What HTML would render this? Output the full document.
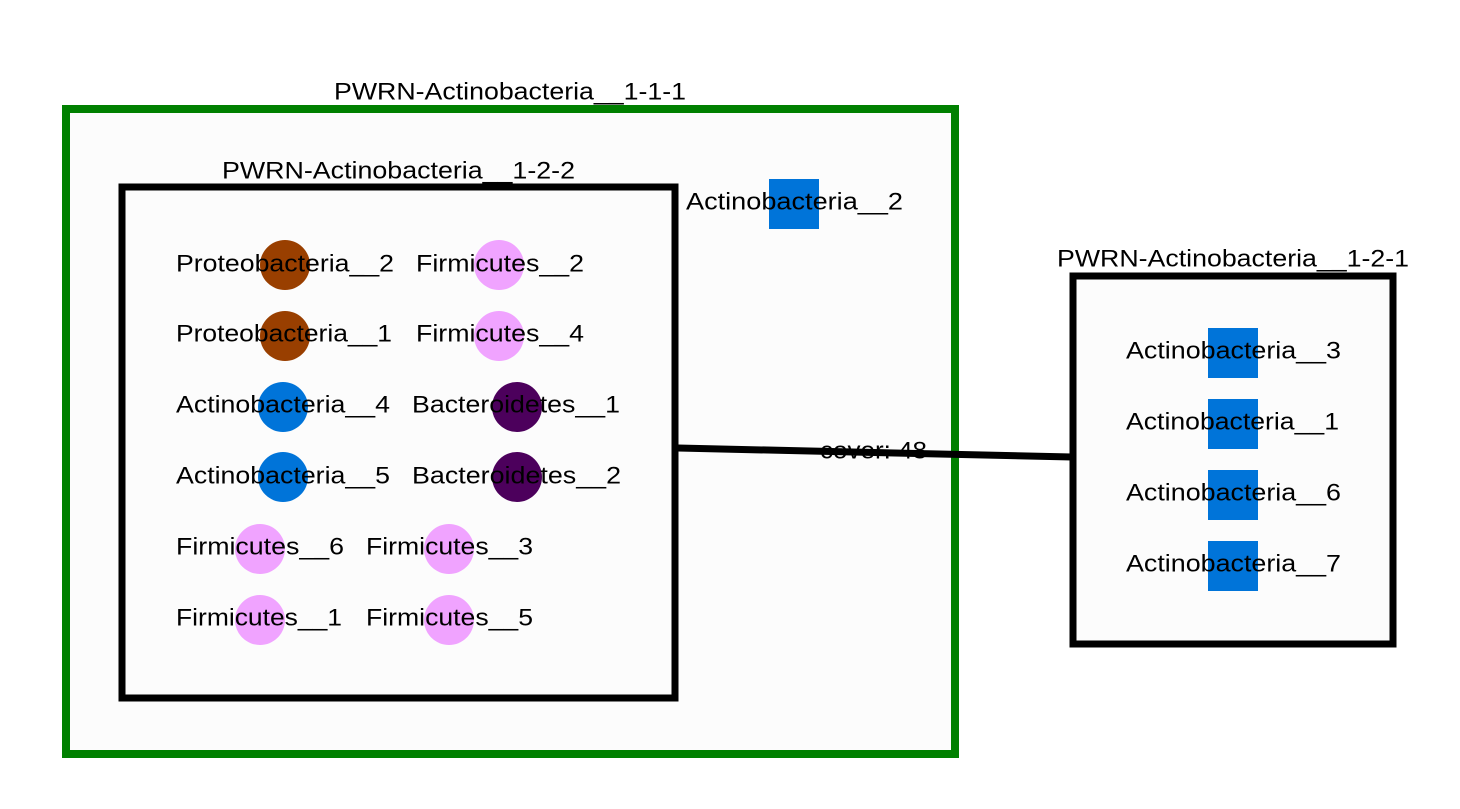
<!DOCTYPE html>
<html><head><meta charset="utf-8"><style>html,body{margin:0;padding:0;background:#fff;}svg{display:block}text{font-family:"Liberation Sans",sans-serif;font-size:24px;fill:#000;dominant-baseline:central}</style></head>
<body>
<svg width="1460" height="809" viewBox="0 0 1460 809">
<text x="334" y="92" textLength="352" lengthAdjust="spacingAndGlyphs">PWRN-Actinobacteria__1-1-1</text>
<rect x="66" y="109" width="889" height="645" fill="#fcfcfc" stroke="#008000" stroke-width="8"/>
<text x="222" y="171" textLength="353" lengthAdjust="spacingAndGlyphs">PWRN-Actinobacteria__1-2-2</text>
<rect x="122" y="187" width="553" height="511" fill="#fcfcfc" stroke="#000" stroke-width="7"/>
<text x="1057" y="259" textLength="352" lengthAdjust="spacingAndGlyphs">PWRN-Actinobacteria__1-2-1</text>
<rect x="1073" y="276" width="320" height="368" fill="#fcfcfc" stroke="#000" stroke-width="7"/>
<line x1="678" y1="448" x2="1072" y2="457" stroke="#000" stroke-width="7"/>
<text x="820" y="451" textLength="107" lengthAdjust="spacingAndGlyphs">cover: 48</text>
<rect x="769" y="179" width="50" height="50" fill="#0074d9"/>
<text x="686" y="202" textLength="217" lengthAdjust="spacingAndGlyphs">Actinobacteria__2</text>
<circle cx="285" cy="265" r="25" fill="#993f00"/><text x="176" y="264" textLength="218" lengthAdjust="spacingAndGlyphs">Proteobacteria__2</text>
<circle cx="499" cy="265" r="25" fill="#f0a3ff"/><text x="416" y="264" textLength="168" lengthAdjust="spacingAndGlyphs">Firmicutes__2</text>
<circle cx="285" cy="336" r="25" fill="#993f00"/><text x="176" y="334" textLength="216" lengthAdjust="spacingAndGlyphs">Proteobacteria__1</text>
<circle cx="499" cy="336" r="25" fill="#f0a3ff"/><text x="416" y="334" textLength="168" lengthAdjust="spacingAndGlyphs">Firmicutes__4</text>
<circle cx="283" cy="407" r="25" fill="#0074d9"/><text x="176" y="405" textLength="214" lengthAdjust="spacingAndGlyphs">Actinobacteria__4</text>
<circle cx="517" cy="407" r="25" fill="#4c005c"/><text x="412" y="405" textLength="208" lengthAdjust="spacingAndGlyphs">Bacteroidetes__1</text>
<circle cx="283" cy="477" r="25" fill="#0074d9"/><text x="176" y="476" textLength="214" lengthAdjust="spacingAndGlyphs">Actinobacteria__5</text>
<circle cx="517" cy="477" r="25" fill="#4c005c"/><text x="412" y="476" textLength="209" lengthAdjust="spacingAndGlyphs">Bacteroidetes__2</text>
<circle cx="260" cy="549" r="25" fill="#f0a3ff"/><text x="176" y="547" textLength="168" lengthAdjust="spacingAndGlyphs">Firmicutes__6</text>
<circle cx="449" cy="549" r="25" fill="#f0a3ff"/><text x="366" y="547" textLength="167" lengthAdjust="spacingAndGlyphs">Firmicutes__3</text>
<circle cx="260" cy="620" r="25" fill="#f0a3ff"/><text x="176" y="618" textLength="166" lengthAdjust="spacingAndGlyphs">Firmicutes__1</text>
<circle cx="449" cy="620" r="25" fill="#f0a3ff"/><text x="366" y="618" textLength="167" lengthAdjust="spacingAndGlyphs">Firmicutes__5</text>
<rect x="1208" y="328" width="50" height="50" fill="#0074d9"/><text x="1126" y="351" textLength="215" lengthAdjust="spacingAndGlyphs">Actinobacteria__3</text>
<rect x="1208" y="399" width="50" height="50" fill="#0074d9"/><text x="1126" y="422" textLength="213" lengthAdjust="spacingAndGlyphs">Actinobacteria__1</text>
<rect x="1208" y="470" width="50" height="50" fill="#0074d9"/><text x="1126" y="493" textLength="215" lengthAdjust="spacingAndGlyphs">Actinobacteria__6</text>
<rect x="1208" y="541" width="50" height="50" fill="#0074d9"/><text x="1126" y="564" textLength="215" lengthAdjust="spacingAndGlyphs">Actinobacteria__7</text>
</svg>
</body></html>
